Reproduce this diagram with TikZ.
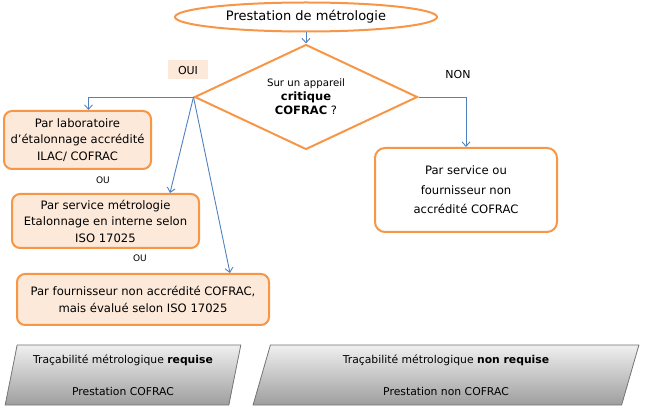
\documentclass[tikz,border=0pt]{standalone}
\usepackage{fontspec}
\setmainfont{DejaVu Sans}
\usepackage{tikz}
\usetikzlibrary{shapes,arrows.meta,positioning,calc}

\definecolor{orangeline}{HTML}{F79646}
\definecolor{orangefill}{HTML}{FDE9D9}
\definecolor{bluearrow}{HTML}{4F81BD}

\begin{document}
\begin{tikzpicture}[x=1pt, y=-1pt,
    start/.style={ellipse, draw=orangeline, fill=white, line width=2pt, minimum width=262pt, minimum height=29pt, inner sep=0pt, font=\fontsize{13}{15}\selectfont},
    question/.style={diamond, aspect=2.12, draw=orangeline, fill=white, line width=2pt, minimum width=223pt, minimum height=105pt, inner sep=0pt, align=center},
    box1/.style={rectangle, draw=orangeline, fill=orangefill, line width=2pt, rounded corners=8pt, align=center, inner sep=0pt, font=\fontsize{11.6}{16.5}\selectfont},
    box2/.style={rectangle, draw=orangeline, fill=white, line width=2pt, rounded corners=10pt, align=center, inner sep=0pt, font=\fontsize{11.6}{19.5}\selectfont},
    result/.style={trapezium, trapezium left angle=76, trapezium right angle=104, trapezium stretches=true, draw=black!55, line width=0.8pt, top color=black!6, bottom color=black!38, minimum width=236pt, minimum height=60pt, inner sep=0pt, align=center, font=\fontsize{10.8}{13}\selectfont},
    small/.style={font=\fontsize{9}{10}\selectfont},
    arrow/.style={-{Straight Barb[length=4.5pt, width=8pt]}, line width=0.9pt, draw=bluearrow}
]
    \useasboundingbox (0,0) rectangle (646,414);

    \node [start] (n0) at (306,17) {Prestation de métrologie};
    \node [question] (q) at (306,97) {{\fontsize{10.2}{12}\selectfont Sur un appareil}\\[2pt]{\fontsize{11.5}{13}\selectfont\bfseries critique}\\[2pt]{\fontsize{11.5}{13}\selectfont\textbf{COFRAC} ?}};

    \node [fill=orangefill, minimum width=40pt, minimum height=19pt, inner sep=0pt, font=\fontsize{11}{12}\selectfont] (oui) at (188,70) {OUI};
    \node [font=\fontsize{11}{12}\selectfont] (non) at (458,74) {NON};

    \node [box1, minimum width=147pt, minimum height=58pt] (b1) at (77.5,140) {Par laboratoire\\d’étalonnage accrédité\\ILAC/ COFRAC};
    \node [small] (ou1) at (103,180) {OU};
    \node [box1, minimum width=187pt, minimum height=54pt] (b2) at (105.5,221) {Par service métrologie\\Etalonnage en interne selon\\ISO 17025};
    \node [small] (ou2) at (140,258) {OU};
    \node [box1, minimum width=252pt, minimum height=51pt] (b3) at (143,299.5) {Par fournisseur non accrédité COFRAC,\\mais évalué selon ISO 17025};

    \node [box2, minimum width=182pt, minimum height=84pt] (r) at (466,190) {Par service ou\\fournisseur non\\accrédité COFRAC};

    \node [result] (res1) at (123,375) {Traçabilité métrologique \textbf{requise}\\[19pt]Prestation COFRAC};
    \node [result, minimum width=386pt] (res2) at (446,375) {Traçabilité métrologique \textbf{non requise}\\[19pt]Prestation non COFRAC};

    \draw [arrow] (n0) -- (q);
    \draw [arrow] (q.west) -| ($(b1.north)+(11,0)$);
    \draw [arrow] (q.west) -- ($(b2.north)+(64.5,0)$);
    \draw [arrow] (q.west) -- ($(b3.north)+(87,0)$);
    \draw [arrow] (q.east) -| (r.north);
\end{tikzpicture}
\end{document}
